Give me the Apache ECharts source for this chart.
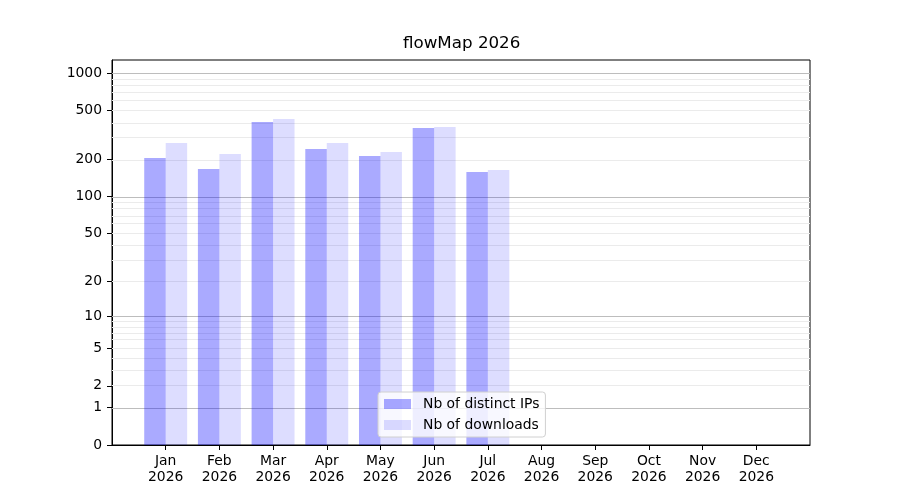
<!DOCTYPE html>
<html>
<head>
<meta charset="utf-8">
<script src="https://cdn.jsdelivr.net/npm/echarts@6/dist/echarts.min.js"></script>
<style>html,body{margin:0;padding:0;background:#fff}#c{width:900px;height:500px}</style>
</head>
<body>
<div id="c"></div>
<script>
const titleText = 'flowMap 2026';
const months = ['Jan','Feb','Mar','Apr','May','Jun','Jul','Aug','Sep','Oct','Nov','Dec'];
const yearLabel = '2026';
const distinctIPs = [206, 168, 404, 244, 214, 361, 159];
const downloads = [273, 222, 427, 273, 231, 368, 165];
const yTickLabels = [0, 1, 2, 5, 10, 20, 50, 100, 200, 500, 1000];
const majorGrid = [1, 10, 100, 1000];
const minorMultipliers = [2, 3, 4, 5, 6, 7, 8, 9];
const seriesNames = ['Nb of distinct IPs', 'Nb of downloads'];

const tf = v => Math.log10(v + 1);
const FONT = 'DejaVu Sans';

const cats = [''].concat(months.map(m => m + '\n' + yearLabel)).concat(['']);
function pad(arr) {
  const out = [null];
  for (let i = 0; i < months.length; i++) out.push(i < arr.length ? tf(arr[i]) : null);
  out.push(null);
  return out;
}
const minorGrid = [];
[1, 10, 100].forEach(d => minorMultipliers.forEach(m => minorGrid.push(m * d)));
const gridLines = minorGrid.map(v => ({ yAxis: tf(v), lineStyle: { color: '#ebebeb', width: 1, type: 'solid' } }))
  .concat(majorGrid.map(v => ({ yAxis: tf(v), lineStyle: { color: '#bdbdbd', width: 1, type: 'solid' } })));

const chart = echarts.init(document.getElementById('c'), null, { renderer: 'canvas' });
chart.setOption({
  animation: false,
  backgroundColor: '#fff',
  title: {
    text: titleText, left: 403, top: 35, padding: 0,
    textStyle: { fontFamily: FONT, fontSize: 16.7, fontWeight: 'normal', color: '#000' }
  },
  grid: { left: 112, right: 90, top: 60, bottom: 55, show: true, borderColor: '#000', borderWidth: 1, backgroundColor: 'transparent' },
  legend: {
    orient: 'vertical', left: 378, top: 392, z: 10,
    padding: [5, 6, 5, 6], itemGap: 7, itemWidth: 27, itemHeight: 10,
    icon: 'rect',
    backgroundColor: 'rgba(255,255,255,0.8)', borderColor: '#d0d0d0', borderWidth: 1, borderRadius: 3,
    textStyle: { fontFamily: FONT, fontSize: 13.9, color: '#000', padding: [0, 0, 0, 7], lineHeight: 14 },
    data: seriesNames
  },
  xAxis: {
    type: 'category', data: cats, boundaryGap: false,
    axisLine: { show: true, lineStyle: { color: '#000', width: 1 } },
    axisTick: { show: true, length: 5, lineStyle: { color: '#000' }, interval: (i) => i >= 1 && i <= months.length },
    axisLabel: { interval: 0, margin: 8, fontFamily: FONT, fontSize: 13.9, color: '#000', lineHeight: 16 },
    splitLine: { show: false }
  },
  yAxis: {
    type: 'value', min: 0, max: 3.107,
    axisLine: { show: true, lineStyle: { color: '#000', width: 1 } },
    axisTick: { show: true, length: 5, lineStyle: { color: '#000' }, customValues: yTickLabels.map(tf) },
    axisLabel: {
      margin: 10, fontFamily: FONT, fontSize: 13.9, color: '#000',
      customValues: yTickLabels.map(tf),
      formatter: (v) => String(Math.round(Math.pow(10, v) - 1))
    },
    splitLine: { show: false }
  },
  series: [
    {
      name: 'grid', type: 'line', data: [], z: 1, silent: true,
      markLine: { z: 1, zlevel: 0, silent: true, symbol: ['none', 'none'], label: { show: false }, lineStyle: { type: 'solid' }, data: gridLines, animation: false }
    },
    {
      name: seriesNames[0], type: 'bar', data: pad(distinctIPs), z: 3,
      barGap: '0%', barCategoryGap: '20%',
      itemStyle: { color: 'rgba(0,0,255,0.333)' }
    },
    {
      name: seriesNames[1], type: 'bar', data: pad(downloads), z: 3,
      barGap: '0%', barCategoryGap: '20%',
      itemStyle: { color: 'rgba(0,0,255,0.133)' }
    }
  ]
});
</script>
</body>
</html>
